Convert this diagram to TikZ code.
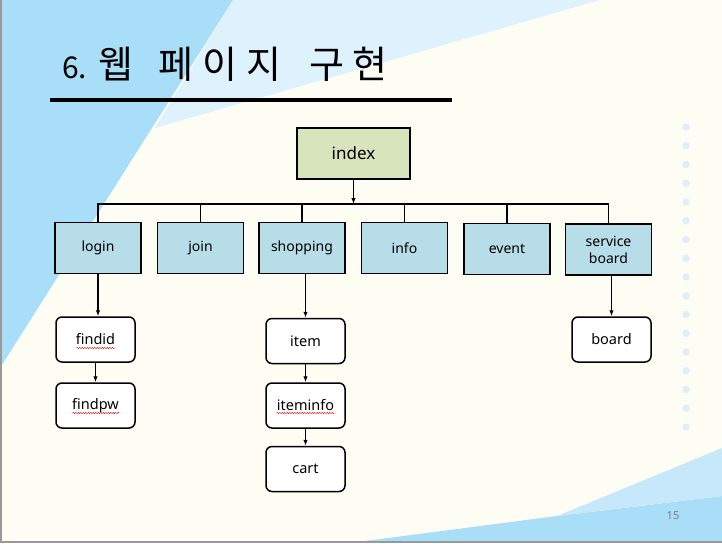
\documentclass[tikz,border=0pt]{standalone}
\usepackage{fontspec}
\setmainfont{Noto Sans}
\newfontfamily\titlefont{Noto Sans CJK KR}
\usetikzlibrary{arrows.meta, decorations.pathmorphing}

\definecolor{cream}{HTML}{FEFDF3}
\definecolor{skydark}{HTML}{A9DEF9}
\definecolor{skylight}{HTML}{DDF2FD}
\definecolor{skymid}{HTML}{C6E8FA}
\definecolor{dotblue}{HTML}{DDEEFC}
\definecolor{indexgreen}{HTML}{D8E4BC}
\definecolor{menublue}{HTML}{B7DDE8}

\begin{document}
\begin{tikzpicture}[x = 1pt, y = -1pt,
  toppage/.style = {draw, line width = 1.5, fill = indexgreen, minimum width = 113, minimum height = 51, font = \fontsize{17}{20}\selectfont},
  menu/.style = {draw, line width = 1.5, fill = menublue, minimum width = 86, minimum height = 51, align = center, font = \fontsize{14}{17}\selectfont},
  subpage/.style = {draw, line width = 1.5, fill = white, rounded corners = 6, minimum width = 79, minimum height = 45, font = \fontsize{14.5}{17}\selectfont},
  wire/.style = {line width = 1.1},
  pointer/.style = {wire, -{Latex[length = 6, width = 4.5]}},
  spell/.style = {red, line width = .4, decorate, decoration = {snake, amplitude = .7, segment length = 2.5}}]

\useasboundingbox (0, 0) rectangle (722, 543);

% slide background
\fill[cream] (0, 0) rectangle (722, 543);
\fill[skydark] (0, 0) -- (233, 0) -- (0, 368) -- cycle;
\fill[skylight] (233, 0) -- (600, 0) -- (155, 128) -- cycle;
\fill[skydark] (365, 541) -- (557, 516) -- (722, 496) -- (722, 541) -- cycle;
\fill[skymid] (557, 516) -- (722, 448) -- (722, 496) -- cycle;
\draw[gray!80, line width = 2] (1, 0) to (1, 542) to (722, 542);

\foreach \k in {0, ..., 16}
  \fill[dotblue] (686, 127 + 18.75 * \k) circle [radius = 3.7];

% title
\node[anchor = base west, inner sep = 0] (title) at (62, 78) {\titlefont\fontsize{38}{44}\selectfont
  \makebox[36pt][l]{\fontsize{30}{36}\selectfont 6.}\makebox[60pt][l]{웹}\makebox[44pt][l]{페}\makebox[44pt][l]{이}\makebox[63pt][l]{지}\makebox[43pt][l]{구}현};
\draw[line width = 3.5] (50, 100) to (452, 100);

\node[text = gray, font = \fontsize{11}{13}\selectfont] (pagenum) at (673, 516) {15};

% pages
\node[toppage] (index) at (353.5, 153.5) {index};

\node[menu] (login) at (98, 248) {login};
\node[menu] (join) at (200.5, 248) {join};
\node[menu] (shop) at (302, 248) {shopping};
\node[menu] (info) at (404.5, 248) {info};
\node[menu] (event) at (507, 249) {event};
\node[menu] (svc) at (608.5, 249.5) {service\\board};

\node[subpage] (findid) at (95.5, 339.5) {findid};
\node[subpage] (findpw) at (95.5, 405.5) {findpw};
\node[subpage] (item) at (305.5, 341) {item};
\node[subpage] (iteminfo) at (305.5, 405.5) {iteminfo};
\node[subpage] (cart) at (305.5, 469) {cart};
\node[subpage] (board) at (611.5, 339.5) {board};

\draw[spell] ([shift = {(-19, 8.5)}] findid.center) to ++(39, 0);
\draw[spell] ([shift = {(-23, 7.5)}] findpw.center) to ++(47, 0);
\draw[spell] ([shift = {(-29, 7.5)}] iteminfo.center) to ++(58, 0);

% links
\coordinate (bus) at (353.5, 204);
\draw[pointer] (index.south) to (index.south |- bus);
\draw[wire] (login.north) |- (bus) -| (svc.north);
\foreach \n in {join, shop, info, event}
  \draw[wire] (\n.north) to (\n.north |- bus);

\draw[pointer] (login.south) to (login.south |- findid.north);
\draw[pointer] (findid) to (findpw);
\draw[pointer] (item.north |- shop.south) to (item.north);
\draw[pointer] (item) to (iteminfo);
\draw[pointer] (iteminfo) to (cart);
\draw[pointer] (board.north |- svc.south) to (board.north);

\end{tikzpicture}
\end{document}
